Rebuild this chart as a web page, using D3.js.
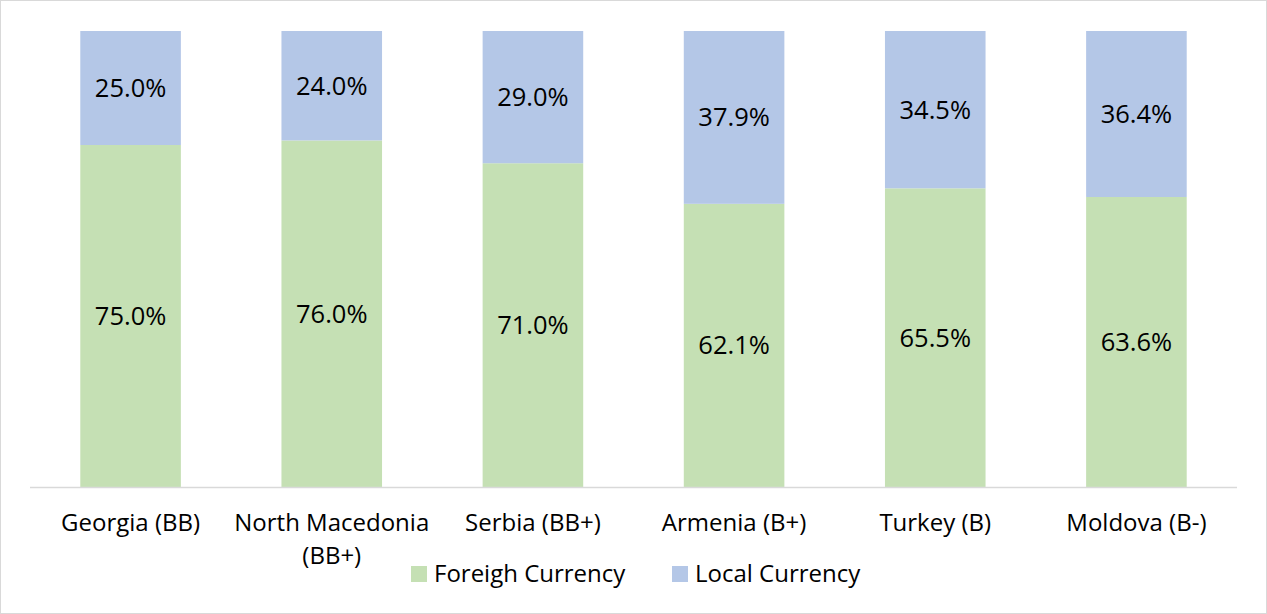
<!DOCTYPE html>
<html>
<head>
<meta charset="utf-8">
<script src="https://cdn.jsdelivr.net/npm/d3@7"></script>
<style>
  body { margin: 0; background: #fff; }
  svg text { font-family: "Open Sans", "Noto Sans", sans-serif; fill: #000; }
</style>
</head>
<body>
<div class="chart-div"></div>
<script>
const countries = ["Georgia (BB)", "North Macedonia (BB+)", "Serbia (BB+)", "Armenia (B+)", "Turkey (B)", "Moldova (B-)"];
const countryLines = [["Georgia (BB)"], ["North Macedonia", "(BB+)"], ["Serbia (BB+)"], ["Armenia (B+)"], ["Turkey (B)"], ["Moldova (B-)"]];
const foreign = [75.0, 76.0, 71.0, 62.1, 65.5, 63.6];
const local = [25.0, 24.0, 29.0, 37.9, 34.5, 36.4];
const seriesNames = ["Foreigh Currency", "Local Currency"];
const seriesColours = ["#c5e0b4", "#b4c7e7"];

let width = 1267;
let height = 614;

const margin = { top: 31, right: 30, bottom: 127, left: 30 };

let svg = d3.select(".chart-div").append("svg")
  .attr("width", width)
  .attr("height", height);

// outer frame
svg.append("rect")
  .attr("x", 0.5).attr("y", 0.5)
  .attr("width", width - 1).attr("height", height - 1)
  .attr("fill", "#fff")
  .attr("stroke", "#d9d9d9");

let x = d3.scaleBand()
  .domain(countries)
  .range([margin.left, width - margin.right])
  .paddingInner(0.5)
  .paddingOuter(0.25);

let y = d3.scaleLinear()
  .domain([0, 100])
  .range([height - margin.bottom, margin.top]);

let rows = countries.map((c, i) => ({ name: c, foreign: foreign[i], local: local[i] }));
let stacked = d3.stack().keys(["foreign", "local"])(rows);

let groups = svg.selectAll("g.series")
  .data(stacked)
  .enter()
  .append("g")
  .attr("class", "series")
  .style("fill", (d, i) => seriesColours[i]);

groups.selectAll("rect")
  .data(d => d)
  .enter()
  .append("rect")
  .attr("x", d => x(d.data.name))
  .attr("width", x.bandwidth())
  .attr("y", d => y(d[1]))
  .attr("height", d => y(d[0]) - y(d[1]));

groups.selectAll("text.valueLabel")
  .data(d => d)
  .enter()
  .append("text")
  .attr("class", "valueLabel")
  .attr("x", d => x(d.data.name) + x.bandwidth() / 2)
  .attr("y", d => (y(d[0]) + y(d[1])) / 2)
  .attr("dy", "0.35em")
  .style("text-anchor", "middle")
  .style("font-size", "25.5px")
  .text(d => d3.format(".1f")(d[1] - d[0]) + "%");

// baseline
svg.append("line")
  .attr("x1", margin.left).attr("x2", width - margin.right)
  .attr("y1", y(0) + 0.5).attr("y2", y(0) + 0.5)
  .attr("stroke", "#d9d9d9")
  .attr("stroke-width", 1.5);

// category labels
let cats = svg.selectAll("text.cat")
  .data(countries)
  .enter()
  .append("text")
  .attr("class", "cat")
  .attr("x", d => x(d) + x.bandwidth() / 2)
  .attr("y", y(0) + 44)
  .style("text-anchor", "middle")
  .style("font-size", "24px");

cats.selectAll("tspan")
  .data((d, i) => countryLines[i])
  .enter()
  .append("tspan")
  .attr("x", function () { return this.parentNode.getAttribute("x"); })
  .attr("dy", (d, i) => i === 0 ? 0 : 33)
  .text(d => d);

// legend
const legendX = [411, 672];
let legend = svg.selectAll("g.legend")
  .data(seriesNames)
  .enter()
  .append("g")
  .attr("class", "legend")
  .attr("transform", (d, i) => `translate(${legendX[i]}, 566)`);

legend.append("rect")
  .attr("width", 16).attr("height", 16)
  .style("fill", (d, i) => seriesColours[i]);

legend.append("text")
  .attr("x", 23)
  .attr("y", 16)
  .style("font-size", "24px")
  .text(d => d);
</script>
</body>
</html>
